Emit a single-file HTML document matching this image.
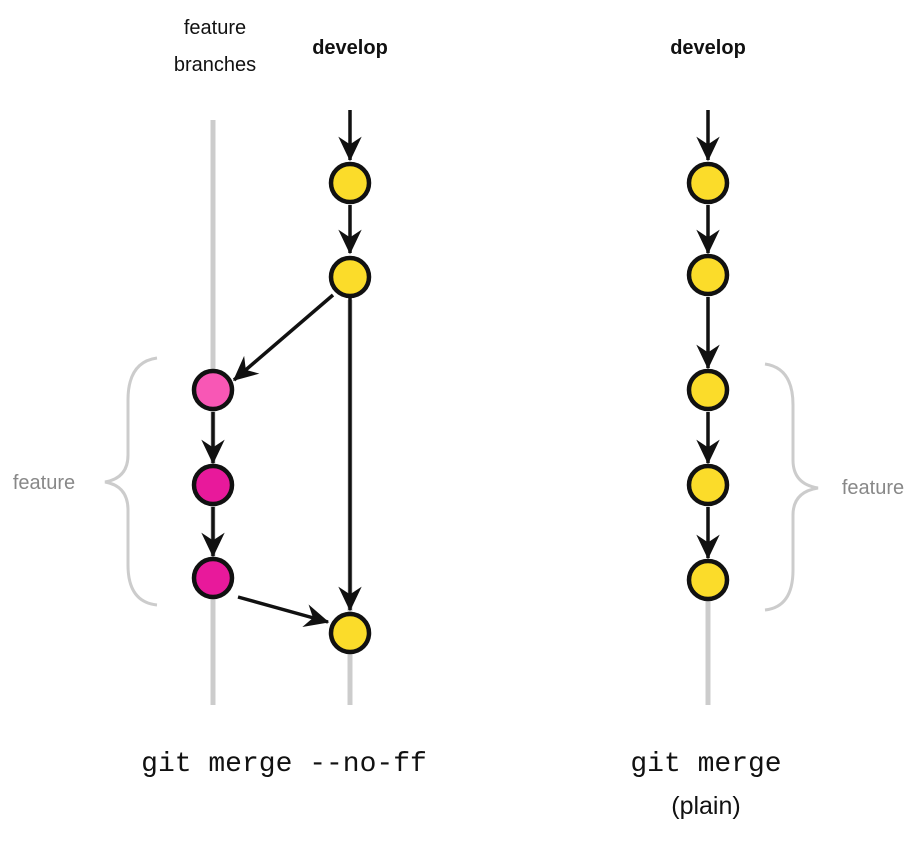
<!DOCTYPE html>
<html><head><style>
body{margin:0;background:#fff;width:922px;height:857px;overflow:hidden}
</style></head><body>
<svg width="922" height="857" viewBox="0 0 922 857" xmlns="http://www.w3.org/2000/svg">
<defs>
<marker id="a" viewBox="0 0 20 20" refX="18" refY="10" markerWidth="26" markerHeight="26" markerUnits="userSpaceOnUse" orient="auto">
<path d="M0,1 L19,10 L0,19 L6,10 Z" fill="#111"/>
</marker>
</defs>
<g stroke="#ccc" stroke-width="5" fill="none">
<line x1="213" y1="120" x2="213" y2="705"/>
<line x1="350" y1="300" x2="350" y2="705"/>
<line x1="708" y1="590" x2="708" y2="705"/>
<path d="M157,358 Q128,362 128,400 L128,455 Q128,478 105,482 Q128,486 128,510 L128,565 Q128,602 157,605" stroke-width="3"/>
<path d="M765,364 Q793,368 793,405 L793,460 Q793,484 818,488 Q793,492 793,515 L793,570 Q793,607 765,610" stroke-width="3"/>
</g>
<g stroke="#111" stroke-width="3.5" fill="none" marker-end="url(#a)">
<line x1="350" y1="110" x2="350" y2="160"/>
<line x1="350" y1="205" x2="350" y2="253"/>
<line x1="333" y1="295" x2="234" y2="380"/>
<line x1="350" y1="298" x2="350" y2="610"/>
<line x1="213" y1="412" x2="213" y2="463"/>
<line x1="213" y1="507" x2="213" y2="556"/>
<line x1="238" y1="597" x2="328" y2="622"/>
<line x1="708" y1="110" x2="708" y2="160"/>
<line x1="708" y1="205" x2="708" y2="253"/>
<line x1="708" y1="297" x2="708" y2="368"/>
<line x1="708" y1="412" x2="708" y2="463"/>
<line x1="708" y1="507" x2="708" y2="558"/>
</g>
<g stroke="#111" stroke-width="4.5">
<circle cx="350" cy="183" r="19" fill="#fbdc2a"/>
<circle cx="350" cy="277" r="19" fill="#fbdc2a"/>
<circle cx="350" cy="633" r="19" fill="#fbdc2a"/>
<circle cx="213" cy="390" r="19" fill="#f857b5"/>
<circle cx="213" cy="485" r="19" fill="#e8199b"/>
<circle cx="213" cy="578" r="19" fill="#e8199b"/>
<circle cx="708" cy="183" r="19" fill="#fbdc2a"/>
<circle cx="708" cy="275" r="19" fill="#fbdc2a"/>
<circle cx="708" cy="390" r="19" fill="#fbdc2a"/>
<circle cx="708" cy="485" r="19" fill="#fbdc2a"/>
<circle cx="708" cy="580" r="19" fill="#fbdc2a"/>
</g>
<g font-family="Liberation Sans, sans-serif" text-anchor="middle">
<text x="215" y="34" font-size="20" fill="#111">feature</text>
<text x="215" y="71" font-size="20" fill="#111">branches</text>
<text x="350" y="54" font-size="20" font-weight="bold" fill="#111">develop</text>
<text x="708" y="54" font-size="20" font-weight="bold" fill="#111">develop</text>
<text x="44" y="489" font-size="20" fill="#888">feature</text>
<text x="873" y="494" font-size="20" fill="#888">feature</text>
<text x="706" y="814" font-size="25" fill="#111">(plain)</text>
</g>
<g font-family="Liberation Mono, monospace" font-size="28" fill="#111" text-anchor="middle">
<text x="284" y="771">git merge --no-ff</text>
<text x="706" y="771">git merge</text>
</g>
</svg>
</body></html>
